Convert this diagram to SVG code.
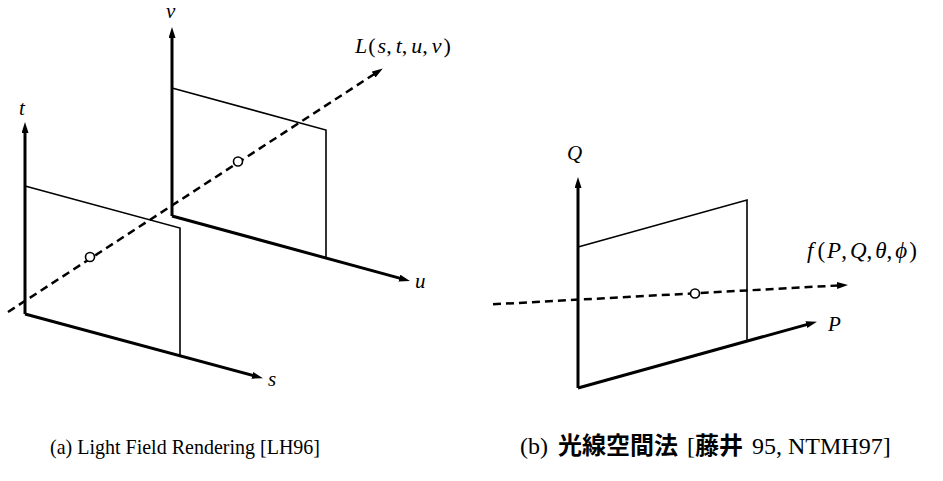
<svg xmlns="http://www.w3.org/2000/svg" width="943" height="481" viewBox="0 0 943 481">
<defs>
<marker id="ah" markerUnits="userSpaceOnUse" markerWidth="12" markerHeight="8" refX="4" refY="3.5" orient="auto">
<path d="M0,0 L11,3.5 L0,7 Z" fill="#000"/>
</marker>
<style>
.thick{fill:none;stroke:#000;stroke-width:3;stroke-linejoin:miter}
.thin{fill:none;stroke:#000;stroke-width:1.6}
.dash{fill:none;stroke:#000;stroke-width:2.5;stroke-dasharray:8 5}
.pt{fill:#fff;stroke:#000;stroke-width:1.6}
.math{font-family:"Liberation Serif","Times New Roman",serif;font-style:italic;font-size:21px;fill:#000}
.rm{font-style:normal}
.cap{font-family:"Liberation Serif","Times New Roman",serif;font-size:22px;fill:#000}
.capb{font-family:"Liberation Serif","Times New Roman",serif;font-size:24px;fill:#000}
.cjk{font-family:"Noto Sans CJK JP","Noto Sans CJK SC",sans-serif;font-weight:bold;font-size:24px}
</style>
</defs>
<rect width="943" height="481" fill="#fff"/>
<g id="diagram-a">
<g id="plane-st">
<polyline class="thin" points="25,186 180,228 180,356"/>
<line class="thick" x1="25" y1="314" x2="25" y2="129" marker-end="url(#ah)"/>
<polyline class="thick" points="25,314 256.2,376.4" marker-end="url(#ah)"/>
<text class="math" x="19" y="115">t</text>
<text class="math" x="268" y="386">s</text>
</g>
<g id="plane-uv">
<polyline class="thin" points="172,88 326,130 326,258"/>
<line class="thick" x1="172" y1="216" x2="172" y2="34" marker-end="url(#ah)"/>
<polyline class="thick" points="172,216 403.2,279.1" marker-end="url(#ah)"/>
<text class="math" x="166" y="18">v</text>
<text class="math" x="415" y="288">u</text>
</g>
<g id="ray-L">
<line class="dash" x1="8" y1="312" x2="377" y2="72.3" marker-end="url(#ah)"/>
<circle class="pt" cx="90" cy="257" r="4.5"/>
<circle class="pt" cx="238" cy="161.5" r="4.5"/>
<text class="math" x="355" y="53" style="font-size:22px">L<tspan class="rm" dx="1">(</tspan><tspan dx="2">s</tspan><tspan class="rm">,</tspan><tspan dx="4">t</tspan><tspan class="rm">,</tspan><tspan dx="4">u</tspan><tspan class="rm">,</tspan><tspan dx="4">v</tspan><tspan class="rm" dx="2">)</tspan></text>
</g>
</g>
<g id="diagram-b">
<g id="plane-PQ">
<polyline class="thin" points="578,247 747,200 747,341"/>
<line class="thick" x1="578" y1="388" x2="578" y2="184" marker-end="url(#ah)"/>
<polyline class="thick" points="578,388 810.2,323.6" marker-end="url(#ah)"/>
<text class="math" x="567" y="160">Q</text>
<text class="math" x="828" y="331">P</text>
</g>
<g id="ray-f">
<line class="dash" x1="493" y1="304.3" x2="841" y2="285.3" marker-end="url(#ah)"/>
<circle class="pt" cx="695" cy="293.5" r="4.5"/>
<text class="math" x="807" y="258" style="font-size:23px">f<tspan class="rm" dx="4">(</tspan><tspan dx="2">P</tspan><tspan class="rm">,</tspan><tspan dx="3">Q</tspan><tspan class="rm">,</tspan><tspan dx="3">θ</tspan><tspan class="rm">,</tspan><tspan dx="3">ϕ</tspan><tspan class="rm" dx="2">)</tspan></text>
</g>
</g>
<g id="captions">
<text class="cap" x="50" y="454" textLength="270" lengthAdjust="spacingAndGlyphs">(a) Light Field Rendering [LH96]</text>
<text class="capb" x="520" y="454">(b) <tspan class="cjk" dx="4">光線空間法</tspan> <tspan dx="3">[</tspan><tspan class="cjk">藤井</tspan> <tspan dx="3">95,</tspan> NTMH97]</text>
</g>
</svg>
